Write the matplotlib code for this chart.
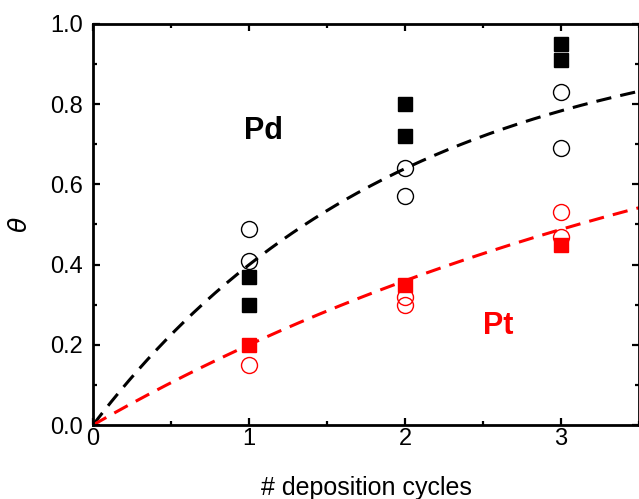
import numpy as np
import matplotlib
matplotlib.use("Agg")
import matplotlib.pyplot as plt
from matplotlib.ticker import MultipleLocator, FormatStrFormatter

plt.rcParams['font.family'] = ['Liberation Sans', 'DejaVu Sans']

# Data
pd_sq_x = [1, 1, 2, 2, 3, 3]
pd_sq_y = [0.37, 0.30, 0.80, 0.72, 0.95, 0.91]
pd_ci_x = [1, 1, 2, 2, 3, 3]
pd_ci_y = [0.49, 0.41, 0.64, 0.57, 0.83, 0.69]
pt_sq_x = [1, 2, 3]
pt_sq_y = [0.20, 0.35, 0.45]
pt_ci_x = [1, 2, 2, 3, 3]
pt_ci_y = [0.15, 0.32, 0.30, 0.53, 0.47]
# fit rate constants for theta = 1 - exp(-k n)
k_pd = 0.51
k_pt = 0.223

fig = plt.figure(figsize=(6.39, 4.99), dpi=100)
ax = fig.add_axes([93/639, (499-425)/499, (639-93)/639, (425-24)/499])

n = np.linspace(0, 3.5, 300)
ax.plot(n, 1 - np.exp(-k_pd * n), color='black', lw=2.2, ls=(0, (5, 3)), zorder=2)
ax.plot(n, 1 - np.exp(-k_pt * n), color='red', lw=2.2, ls=(0, (5, 3)), zorder=2)

ax.plot(pd_sq_x, pd_sq_y, 's', color='black', ms=10.5, ls='none', zorder=3)
ax.plot(pd_ci_x, pd_ci_y, 'o', mfc='none', mec='black', mew=1.0, ms=11.5, ls='none', zorder=3)
ax.plot(pt_sq_x, pt_sq_y, 's', color='red', ms=10.5, ls='none', zorder=3)
ax.plot(pt_ci_x, pt_ci_y, 'o', mfc='none', mec='red', mew=1.0, ms=11.5, ls='none', zorder=3)

ax.text(1.094, 0.713, 'Pd', color='black', fontsize=22, fontweight='bold', ha='center', va='baseline')
ax.text(2.60, 0.227, 'Pt', color='red', fontsize=22, fontweight='bold', ha='center', va='baseline')

ax.set_xlim(0, 3.5)
ax.set_ylim(0, 1.0)
ax.xaxis.set_major_locator(MultipleLocator(1))
ax.xaxis.set_minor_locator(MultipleLocator(0.5))
ax.yaxis.set_major_locator(MultipleLocator(0.2))
ax.yaxis.set_minor_locator(MultipleLocator(0.1))
ax.yaxis.set_major_formatter(FormatStrFormatter('%.1f'))
ax.tick_params(which='both', direction='in', top=True, right=True, width=1.6, labelsize=17)
ax.tick_params(which='major', length=5)
ax.tick_params(which='minor', length=3)
ax.tick_params(axis='x', which='major', pad=2)
ax.tick_params(axis='y', which='major', pad=7)
for s in ax.spines.values():
    s.set_linewidth(2)

ax.set_xlabel('# deposition cycles', fontsize=18, labelpad=19)
ax.set_ylabel(r'$\theta$', fontsize=18, labelpad=13)

fig.savefig('out.png', dpi=100)
